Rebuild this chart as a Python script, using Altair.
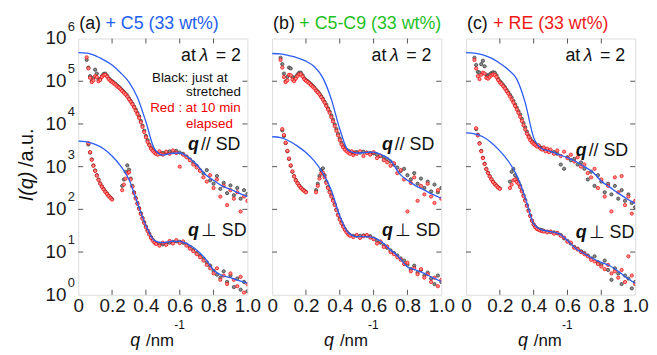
import altair as alt
import pandas as pd

FONT = "Liberation Sans"

# ---------------- data (log10 of intensity) ----------------
MODEL_Q = [0.00, 0.05, 0.10, 0.15, 0.20, 0.25, 0.30, 0.35, 0.40, 0.45, 0.50,
           0.55, 0.60, 0.65, 0.70, 0.75, 0.80, 0.85, 0.90, 0.95, 1.00]

UP_Q = [0.05, 0.06, 0.07, 0.08, 0.09, 0.10, 0.11, 0.12, 0.13, 0.14,
        0.15, 0.16, 0.17, 0.18, 0.19, 0.20, 0.21, 0.22, 0.23, 0.24,
        0.25, 0.26, 0.27, 0.28, 0.29, 0.30, 0.31, 0.32, 0.33, 0.34,
        0.35, 0.36, 0.37, 0.38, 0.39, 0.40, 0.41, 0.42, 0.43, 0.44,
        0.45, 0.46, 0.47, 0.48, 0.49,
        0.50, 0.52, 0.54, 0.56, 0.58, 0.60, 0.62, 0.64, 0.66, 0.68,
        0.70, 0.72, 0.74, 0.76, 0.78, 0.80, 0.82, 0.84, 0.86, 0.88,
        0.90, 0.92, 0.94, 0.96, 0.98, 1.00]

LOW1_Q = [0.06, 0.07, 0.08, 0.09, 0.10, 0.11, 0.12, 0.13, 0.14, 0.15,
          0.16, 0.17, 0.18, 0.19, 0.20]

LOW2_Q = [0.26, 0.27, 0.28, 0.29, 0.30, 0.31, 0.32, 0.33, 0.34, 0.35,
          0.36, 0.37, 0.38, 0.39, 0.40, 0.41, 0.42, 0.43, 0.44, 0.45,
          0.46,
          0.48, 0.50, 0.52, 0.54, 0.56, 0.58, 0.60, 0.62, 0.64, 0.66,
          0.68, 0.70, 0.72, 0.74, 0.76, 0.78, 0.80, 0.82, 0.84, 0.86,
          0.88, 0.90, 0.92, 0.94, 0.96, 0.98, 1.00]

# ---- panel (a) + C5 ----
A_MODEL_UP = [5.67, 5.66, 5.60, 5.50, 5.38, 5.20, 4.98, 4.62, 4.05, 3.42, 3.27,
              3.31, 3.32, 3.22, 3.05, 2.82, 2.68, 2.55, 2.47, 2.38, 2.30]
A_MODEL_LOW = [3.60, 3.58, 3.52, 3.42, 3.25, 3.02, 2.70, 2.15, 1.62, 1.27, 1.22,
               1.25, 1.25, 1.18, 1.05, 0.85, 0.58, 0.45, 0.40, 0.33, 0.27]
A_UP_BLACK = [5.50, 5.32, 5.12, 5.00, 5.08, 5.27, 5.18, 5.04, 5.05, 5.12,
              5.17, 5.18, 5.13, 5.07, 5.03, 5.00, 4.97, 4.94, 4.90, 4.87,
              4.83, 4.79, 4.75, 4.71, 4.66, 4.60, 4.54, 4.48, 4.41, 4.34,
              4.26, 4.18, 4.07, 3.96, 3.84, 3.72, 3.62, 3.52, 3.45, 3.39,
              3.35, 3.32, 3.30, 3.31, 3.31,
              3.32, 3.33, 3.36, 3.34, 3.37, 3.33, 3.30, 3.24, 3.17, 3.10,
              3.02, 2.92, 2.84, 2.92, 2.68, 2.60, 2.78, 2.48, 2.62, 2.38,
              2.56, 2.33, 2.50, 2.25, 2.45, 2.36]
A_UP_RED = [5.56, 5.30, 5.08, 4.98, 5.02, 5.12, 5.10, 5.00, 5.03, 5.10,
            5.14, 5.15, 5.11, 5.05, 5.01, 4.98, 4.95, 4.92, 4.88, 4.85,
            4.81, 4.77, 4.73, 4.69, 4.64, 4.58, 4.52, 4.46, 4.39, 4.31,
            4.23, 4.14, 4.04, 3.93, 3.81, 3.69, 3.58, 3.50, 3.42, 3.37,
            3.33, 3.30, 3.28, 3.36, 3.30,
            3.28, 3.35, 3.30, 3.38, 3.32, 3.00, 3.28, 3.22, 3.15, 3.05,
            2.98, 2.90, 2.75, 2.65, 2.80, 2.50, 2.70, 2.30, 2.55, 2.10,
            2.45, 2.25, 2.40, 1.95, 2.30, 2.20]
A_LOW1_BLACK = [3.52, 3.33, 3.17, 3.03, 2.91, 2.80, 2.70, 2.61, 2.54, 2.48,
                2.42, 2.37, 2.32, 2.28, 2.24]
A_LOW1_RED = [3.55, 3.34, 3.16, 3.02, 2.90, 2.79, 2.69, 2.60, 2.53, 2.47,
              2.41, 2.36, 2.31, 2.27, 2.23]
A_LOW2_BLACK = [2.55, 2.70, 2.88, 3.03, 2.93, 2.72, 2.55, 2.40, 2.27, 2.15,
                2.03, 1.91, 1.80, 1.70, 1.60, 1.51, 1.43, 1.35, 1.29, 1.24,
                1.21,
                1.19, 1.18, 1.20, 1.22, 1.24, 1.25, 1.24, 1.22, 1.18, 1.12,
                1.05, 0.98, 0.92, 0.85, 0.76, 0.68, 0.56, 0.47, 0.40, 0.55,
                0.30, 0.45, 0.18, 0.38, 0.12, 0.30, 0.08]
A_LOW2_RED = [2.45, 2.58, 2.72, 2.84, 2.87, 2.70, 2.53, 2.38, 2.25, 2.13,
              2.01, 1.89, 1.78, 1.68, 1.58, 1.49, 1.41, 1.33, 1.27, 1.22,
              1.19,
              1.15, 1.22, 1.17, 1.26, 1.20, 1.28, 1.21, 1.25, 1.15, 1.08,
              1.02, 0.95, 0.88, 0.80, 0.70, 0.62, 0.50, 0.62, 0.35, 0.45,
              0.25, 0.50, 0.35, 0.20, 0.42, 0.05, 0.25]

# ---- panel (b) + C5-C9 ----
B_MODEL_UP = [5.65, 5.64, 5.60, 5.55, 5.47, 5.34, 5.08, 4.58, 3.88, 3.38, 3.32,
              3.33, 3.34, 3.27, 3.15, 2.85, 2.68, 2.55, 2.45, 2.35, 2.26]
B_MODEL_LOW = [3.70, 3.68, 3.60, 3.48, 3.33, 3.13, 2.85, 2.45, 1.85, 1.45, 1.36,
               1.36, 1.34, 1.23, 1.05, 0.88, 0.65, 0.58, 0.50, 0.40, 0.31]
B_UP_BLACK = [5.55, 5.40, 5.18, 5.00, 5.10, 5.32, 5.30, 5.10, 5.03, 5.10,
              5.16, 5.20, 5.20, 5.14, 5.07, 5.03, 5.00, 4.97, 4.93, 4.89,
              4.85, 4.80, 4.76, 4.71, 4.65, 4.59, 4.52, 4.45, 4.37, 4.29,
              4.20, 4.10, 3.99, 3.88, 3.77, 3.66, 3.56, 3.49, 3.43, 3.39,
              3.37, 3.35, 3.34, 3.33, 3.33,
              3.34, 3.33, 3.35, 3.33, 3.32, 3.31, 3.28, 3.25, 3.22, 3.18,
              3.12, 3.05, 2.98, 2.90, 2.95, 2.80, 2.70, 2.85, 2.60, 2.72,
              2.50, 2.65, 2.42, 2.58, 2.40, 2.50]
B_UP_RED = [5.50, 5.32, 5.10, 4.98, 5.02, 5.15, 5.14, 5.04, 5.00, 5.06,
            5.12, 5.16, 5.16, 5.11, 5.05, 5.01, 4.98, 4.95, 4.91, 4.87,
            4.83, 4.78, 4.74, 4.69, 4.63, 4.57, 4.50, 4.42, 4.34, 4.26,
            4.16, 4.06, 3.95, 3.84, 3.73, 3.62, 3.52, 3.45, 3.40, 3.36,
            3.33, 3.30, 3.36, 3.27, 3.32,
            3.30, 3.36, 3.25, 3.32, 3.28, 3.34, 3.20, 3.26, 3.15, 3.10,
            3.02, 3.08, 2.85, 2.92, 2.70, 1.95, 2.62, 2.75, 2.20, 2.55,
            2.35, 2.60, 2.30, 2.15, 2.45, 2.25]
B_LOW1_BLACK = [3.85, 3.72, 3.55, 3.36, 3.18, 3.02, 2.88, 2.78, 2.69, 2.62,
                2.56, 2.51, 2.47, 2.44, 2.41]
B_LOW1_RED = [3.88, 3.74, 3.56, 3.37, 3.19, 3.03, 2.89, 2.77, 2.68, 2.61,
              2.55, 2.50, 2.46, 2.43, 2.40]
B_LOW2_BLACK = [2.45, 2.60, 2.78, 2.92, 2.96, 2.80, 2.65, 2.52, 2.42, 2.33,
                2.22, 2.12, 2.00, 1.88, 1.78, 1.69, 1.61, 1.54, 1.48, 1.43,
                1.40,
                1.38, 1.38, 1.38, 1.39, 1.38, 1.37, 1.32, 1.27, 1.22, 1.16,
                1.10, 1.04, 0.98, 0.92, 0.85, 0.80, 0.70, 0.60, 0.68, 0.52,
                0.58, 0.45, 0.52, 0.38, 0.25, 0.45, 0.30]
B_LOW2_RED = [2.40, 2.55, 2.72, 2.84, 2.86, 2.75, 2.62, 2.50, 2.40, 2.30,
              2.20, 2.10, 1.98, 1.86, 1.76, 1.67, 1.59, 1.52, 1.46, 1.41,
              1.38,
              1.35, 1.40, 1.33, 1.37, 1.40, 1.34, 1.30, 1.20, 1.25, 1.12,
              1.13, 1.00, 0.95, 0.88, 0.82, 0.72, 0.75, 0.55, 0.62, 0.48,
              0.60, 0.40, 0.48, 0.30, 0.40, 0.20, 0.35]

# ---- panel (c) + RE ----
C_MODEL_UP = [5.67, 5.66, 5.62, 5.54, 5.42, 5.27, 5.05, 4.50, 3.68, 3.42, 3.36,
              3.28, 3.21, 3.12, 3.00, 2.87, 2.66, 2.52, 2.38, 2.25, 2.14]
C_MODEL_LOW = [3.79, 3.77, 3.70, 3.56, 3.37, 3.13, 2.80, 2.28, 1.66, 1.52, 1.48,
               1.43, 1.27, 1.08, 0.96, 0.85, 0.76, 0.68, 0.55, 0.40, 0.27]
C_UP_BLACK = [5.55, 5.38, 5.22, 5.20, 5.40, 5.48, 5.35, 5.15, 5.12, 5.16,
              5.19, 5.21, 5.20, 5.14, 5.06, 5.00, 4.96, 4.91, 4.86, 4.80,
              4.74, 4.68, 4.62, 4.54, 4.46, 4.38, 4.30, 4.22, 4.12, 4.02,
              3.92, 3.82, 3.73, 3.66, 3.60, 3.56, 3.53, 3.50, 3.47, 3.45,
              3.44, 3.42, 3.40, 3.38, 3.37,
              3.36, 3.34, 3.30, 3.05, 2.95, 3.22, 3.15, 3.18, 3.05, 3.10,
              2.95, 2.70, 2.88, 2.55, 2.80, 2.65, 2.40, 2.60, 2.35, 2.55,
              2.25, 2.45, 2.20, 2.35, 2.15, 2.05]
C_UP_RED = [5.50, 5.30, 5.12, 5.05, 5.15, 5.20, 5.18, 5.08, 5.06, 5.10,
            5.14, 5.16, 5.15, 5.10, 5.03, 4.97, 4.93, 4.88, 4.83, 4.77,
            4.71, 4.64, 4.57, 4.50, 4.42, 4.34, 4.26, 4.17, 4.07, 3.97,
            3.87, 3.77, 3.69, 3.62, 3.57, 3.53, 3.50, 3.47, 3.50, 3.42,
            3.40, 3.45, 3.36, 3.42, 3.34,
            3.40, 3.30, 3.38, 3.25, 3.35, 3.20, 3.28, 3.12, 3.22, 3.00,
            3.05, 2.85, 2.75, 2.95, 2.50, 2.70, 2.30, 2.55, 1.95, 2.75,
            2.40, 2.78, 2.10, 2.30, 1.90, 2.20]
C_LOW1_BLACK = [3.88, 3.75, 3.55, 3.37, 3.21, 3.07, 2.95, 2.86, 2.78, 2.71,
                2.65, 2.60, 2.56, 2.52, 2.49]
C_LOW1_RED = [3.90, 3.73, 3.54, 3.36, 3.20, 3.06, 2.94, 2.85, 2.77, 2.70,
              2.64, 2.59, 2.55, 2.51, 2.48]
C_LOW2_BLACK = [2.65, 2.88, 2.95, 2.80, 2.72, 2.64, 2.55, 2.44, 2.33, 2.22,
                2.10, 1.98, 1.86, 1.74, 1.65, 1.59, 1.55, 1.53, 1.52, 1.51,
                1.50,
                1.48, 1.47, 1.46, 1.44, 1.40, 1.32, 1.26, 1.20, 1.12, 1.08,
                1.02, 0.98, 0.92, 0.85, 0.90, 0.76, 0.70, 0.80, 0.58, 0.35,
                0.62, 0.50, 0.25, 0.45, 0.38, 0.15, 0.30]
C_LOW2_RED = [2.50, 2.58, 2.68, 2.70, 2.64, 2.60, 2.52, 2.42, 2.31, 2.20,
              2.08, 1.96, 1.84, 1.73, 1.64, 1.58, 1.54, 1.52, 1.50, 1.49,
              1.48,
              1.46, 1.48, 1.43, 1.45, 1.38, 1.34, 1.24, 1.22, 1.10, 1.06,
              1.00, 0.95, 0.90, 0.82, 0.78, 0.72, 0.66, 0.60, 0.70, 0.50,
              0.55, 0.40, 0.58, 0.30, 0.90, 0.45, 0.25]

PANEL_LABELS = ["(a)", "(b)", "(c)"]
PANEL_TITLES = ["+ C5 (33 wt%)", "+ C5-C9 (33 wt%)", "+ RE (33 wt%)"]
TITLE_COLORS = ["#1f5ff0", "#1fc01f", "#f01818"]
X_TICKS = [0.0, 0.2, 0.4, 0.6, 0.8, 1.0]
Y_EXPONENTS = [0, 1, 2, 3, 4, 5, 6]

PANEL_DATA = [
    dict(mu=A_MODEL_UP, ml=A_MODEL_LOW, ub=A_UP_BLACK, ur=A_UP_RED,
         l1b=A_LOW1_BLACK, l1r=A_LOW1_RED, l2b=A_LOW2_BLACK, l2r=A_LOW2_RED),
    dict(mu=B_MODEL_UP, ml=B_MODEL_LOW, ub=B_UP_BLACK, ur=B_UP_RED,
         l1b=B_LOW1_BLACK, l1r=B_LOW1_RED, l2b=B_LOW2_BLACK, l2r=B_LOW2_RED),
    dict(mu=C_MODEL_UP, ml=C_MODEL_LOW, ub=C_UP_BLACK, ur=C_UP_RED,
         l1b=C_LOW1_BLACK, l1r=C_LOW1_RED, l2b=C_LOW2_BLACK, l2r=C_LOW2_RED),
]

# ---------------- styling ----------------
W, H = 171, 259
BLUE = "#2b5cf5"
AXIS_GRAY = "#555555"
RIGHT_OFF = [-6.5, -10.0, -10.0]
QPAR_Y = [107.5, 107.5, 113.5]
QPERP_Y = [194.5, 194.5, 196.5]

XS = alt.Scale(domain=[0, 1], nice=False, zero=False)
YS = alt.Scale(type="log", domain=[1, 1e6], nice=False)
XAXIS = alt.Axis(values=X_TICKS, ticks=False, domain=False, grid=False,
                 labelExpr="datum.value == 0 ? '0' : format(datum.value, '.1f')",
                 labelFontSize=19, labelPadding=2, labelFlush=False, title=None,
                 labelFont=FONT, labelColor="#1a1a1a")


def X():
    return alt.X("q:Q", scale=XS, axis=XAXIS)


def Y():
    return alt.Y("I:Q", scale=YS, axis=None)


def rows(qs, vals, branch):
    return [{"q": q, "I": 10 ** v, "branch": branch} for q, v in zip(qs, vals)]


def txt(s, x, y, size=18, color="#111111", align="left", baseline="middle",
        style="normal", weight="normal", angle=0):
    return alt.Chart(alt.Data(values=[{}])).mark_text(
        text=s, fontSize=size, color=color, align=align, baseline=baseline,
        fontStyle=style, fontWeight=weight, angle=angle, font=FONT
    ).encode(x=alt.value(x), y=alt.value(y))


def panel(i):
    d = PANEL_DATA[i]
    model = pd.DataFrame(rows(MODEL_Q, d["mu"], "up") + rows(MODEL_Q, d["ml"], "low"))
    black = pd.DataFrame(rows(UP_Q, d["ub"], "up") + rows(LOW1_Q, d["l1b"], "l1")
                         + rows(LOW2_Q, d["l2b"], "l2"))
    red = pd.DataFrame(rows(UP_Q, d["ur"], "up") + rows(LOW1_Q, d["l1r"], "l1")
                       + rows(LOW2_Q, d["l2r"], "l2"))

    layers = []
    layers.append(alt.Chart(black).mark_point(
        shape="circle", filled=True, size=11, fill="#8a8a8a", stroke="#333333",
        strokeWidth=0.7, opacity=1, clip=True).encode(x=X(), y=Y()))
    layers.append(alt.Chart(red).mark_point(
        shape="circle", filled=True, size=11, fill="#ff8c8c", stroke="#f00000",
        strokeWidth=0.7, opacity=1, clip=True).encode(x=X(), y=Y()))
    layers.append(alt.Chart(model).mark_line(
        color=BLUE, strokeWidth=1.3, interpolate="monotone", clip=True).encode(
        x=X(), y=Y(), detail="branch:N"))

    xt = pd.DataFrame({"q": X_TICKS[1:-1]})
    layers.append(alt.Chart(xt).mark_rule(color=AXIS_GRAY, strokeWidth=1).encode(
        x=X(), y=alt.value(0), y2=alt.value(5)))
    layers.append(alt.Chart(xt).mark_rule(color=AXIS_GRAY, strokeWidth=1).encode(
        x=X(), y=alt.value(H - 5), y2=alt.value(H)))
    yt = pd.DataFrame({"I": [10 ** e for e in Y_EXPONENTS[1:-1]]})
    layers.append(alt.Chart(yt).mark_rule(color=AXIS_GRAY, strokeWidth=1).encode(
        y=Y(), x=alt.value(0), x2=alt.value(5)))
    layers.append(alt.Chart(yt).mark_rule(color=AXIS_GRAY, strokeWidth=1).encode(
        y=Y(), x=alt.value(W - 5), x2=alt.value(W)))

    # panel title
    layers.append(txt(PANEL_LABELS[i], 1, -14.5, size=18))
    layers.append(txt(PANEL_TITLES[i], 27.5, -14.5, size=18, color=TITLE_COLORS[i]))

    # "at lambda = 2"
    R = W + RIGHT_OFF[i]
    layers.append(txt("= 2", R, 17.5, size=18, align="right"))
    layers.append(txt("\u03bb", R - 37.5, 17.5, size=18, align="center", style="italic"))
    layers.append(txt("at", R - 45.5, 17.5, size=18, align="right"))

    # q // SD and q perp SD
    layers.append(txt("q", 122, QPAR_Y[i], size=18, align="right", style="italic", weight="bold"))
    layers.append(txt("// SD", 124, QPAR_Y[i], size=18))
    layers.append(txt("q", 122, QPERP_Y[i], size=18, align="right", style="italic", weight="bold"))
    layers.append(txt("\u22a5 SD", 124, QPERP_Y[i], size=18))

    # x title
    layers.append(txt("q", 57.5, 311, size=18, align="center", baseline="alphabetic", style="italic"))
    layers.append(txt("/nm", 68.5, 311, size=17, baseline="alphabetic"))
    layers.append(txt("-1", 97, 294, size=12, baseline="alphabetic"))

    if i == 0:
        layers.append(txt("Black: just at", 112.8, 39.5, size=13.5, align="center"))
        layers.append(txt("stretched", 136.7, 54, size=13.5, align="center"))
        layers.append(txt("Red : at 10 min", 118.5, 70, size=13.5, align="center", color="#f00000"))
        layers.append(txt("elapsed", 132.7, 86, size=13.5, align="center", color="#f00000"))
        ylab = pd.DataFrame({"I": [10 ** e for e in Y_EXPONENTS],
                             "base": ["10"] * len(Y_EXPONENTS),
                             "sup": [str(e) for e in Y_EXPONENTS]})
        layers.append(alt.Chart(ylab).mark_text(
            fontSize=19, align="right", baseline="middle", font=FONT, color="#1a1a1a"
        ).encode(y=Y(), x=alt.value(-12), text="base:N"))
        layers.append(alt.Chart(ylab).mark_text(
            fontSize=13, align="left", baseline="middle", font=FONT, color="#1a1a1a", dy=-12
        ).encode(y=Y(), x=alt.value(-10.5), text="sup:N"))
        layers.append(txt("I(q)", -51.5, 149.5, size=20, align="center", style="italic", angle=270))
        layers.append(txt("/a.u.", -51.5, 110.5, size=20, align="center", angle=270))

    return alt.layer(*layers).properties(width=W, height=H)


chart = alt.hconcat(panel(0), panel(1), panel(2), spacing=25, bounds="flush").properties(
    padding={"left": 9, "top": 5, "right": 0, "bottom": 0}
).configure_view(stroke=AXIS_GRAY, strokeWidth=1.5).configure(background="white")

chart.save("out.html", embed_options={"renderer": "svg", "actions": False})
